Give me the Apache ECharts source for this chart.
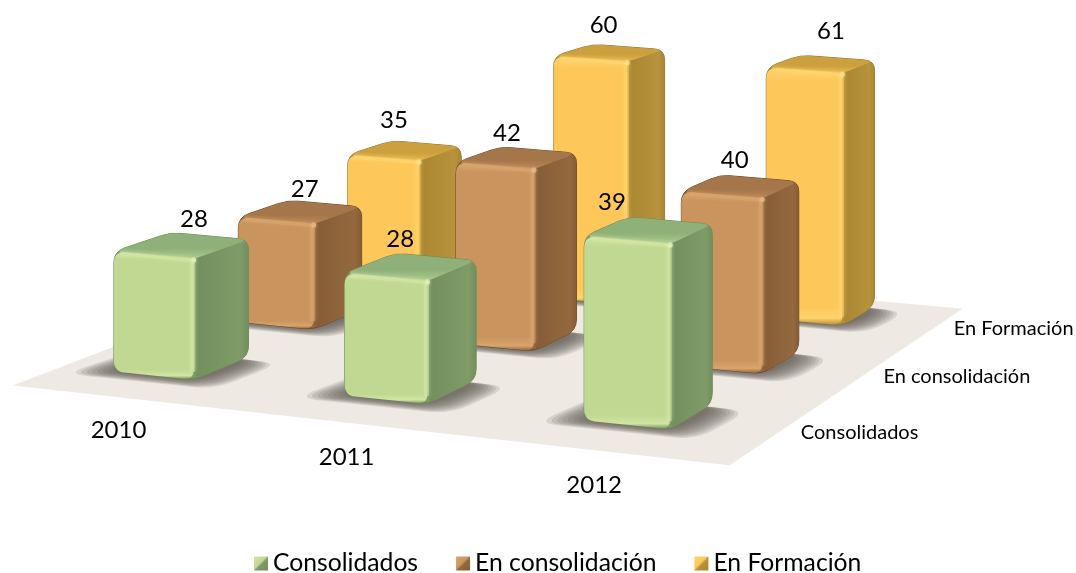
<!DOCTYPE html>
<html><head><meta charset="utf-8">
<style>html,body{margin:0;padding:0;background:#fff}#c{width:1076px;height:573px}</style>
<script src="https://cdn.jsdelivr.net/npm/echarts@6/dist/echarts.min.js"></script>
</head><body><div id="c"></div>
<script>
// ---- data ----
const years = ['2010', '2011', '2012'];
const rowNames = ['Consolidados', 'En consolidación', 'En Formación'];
const consolidados = [28, 28, 39];
const enConsolidacion = [27, 42, 40];
const enFormacion = [35, 60, 61];

// ---- presentation ----
const FONT = 'Lato, "Open Sans", sans-serif';
const palettes = [
  {front:'#c0d892', lite:'#d2e5a4', edge:'#6f8a55', side:'#7f9b68', sideD:'#728e5e', top:'#8fb078', topL:'#a9cb8e', dot:'#e2f2bc'},
  {front:'#c9945e', lite:'#d8a56f', edge:'#6e4a28', side:'#94693f', sideD:'#845c36', top:'#a5764a', topL:'#b98553', dot:'#e6b98a'},
  {front:'#fdc75a', lite:'#ffd46e', edge:'#8f7a3a', side:'#b8923c', sideD:'#a98632', top:'#cda03f', topL:'#e6b64c', dot:'#ffe08a'}
];
// label nudges per row/year, px
const labelNudge = [
  [[12,2],[-11,0],[-37,0]],
  [[4,5],[-10,4],[-6,2]],
  [[-11,-2],[-6,0],[10,-5]]
];
const yearShift = [[20,-5],[10,-3],[10,-1]];
const rowShift = [[71,6],[85,5],[69,5]];
const halfU = 0.175, halfV = 0.22;
const floorCorners = [[-0.40,-0.58],[2.57,-0.63],[2.55,2.33],[-0.40,2.33]];
const FRONT_V = -0.63, RIGHT_U = 2.57;
const AXIS_MIN = 0, AXIS_MAX = 92;
const rowBase = [5, 5.5, 8];   // where each row's bars leave the floor on the value scale

// perspective mapping of the floor plane: (year index, row index) -> screen
const Q = [[182,364],[649,412],[821,312],[405,273]];
const H = (function(){
  const [p0,p1,p2,p3] = Q;
  const dx1=p1[0]-p2[0], dx2=p3[0]-p2[0], sx=p0[0]-p1[0]+p2[0]-p3[0];
  const dy1=p1[1]-p2[1], dy2=p3[1]-p2[1], sy=p0[1]-p1[1]+p2[1]-p3[1];
  const det=dx1*dy2-dx2*dy1;
  const g=(sx*dy2-dx2*sy)/det, h=(dx1*sy-sx*dy1)/det;
  return {a:p1[0]-p0[0]+g*p1[0], b:p3[0]-p0[0]+h*p3[0], c:p0[0],
          d:p1[1]-p0[1]+g*p1[1], e:p3[1]-p0[1]+h*p3[1], f:p0[1], g, h};
})();
function project(u, v, height){
  const s=u/2, t=v/2, w=H.g*s+H.h*t+1;
  return [(H.a*s+H.b*t+H.c)/w, (H.d*s+H.e*t+H.f)/w-(height||0)/w];
}
function roundPoly(pts, radii){
  let d='';
  const n=pts.length;
  for(let i=0;i<n;i++){
    const p=pts[i], a=pts[(i+n-1)%n], b=pts[(i+1)%n], r=radii[i];
    const la=Math.hypot(a[0]-p[0],a[1]-p[1]), lb=Math.hypot(b[0]-p[0],b[1]-p[1]);
    const ra=Math.min(r,la/2), rb=Math.min(r,lb/2);
    const s=[p[0]+(a[0]-p[0])*ra/la, p[1]+(a[1]-p[1])*ra/la];
    const e=[p[0]+(b[0]-p[0])*rb/lb, p[1]+(b[1]-p[1])*rb/lb];
    d+=(i?'L':'M')+s[0]+' '+s[1]+'Q'+p[0]+' '+p[1]+' '+e[0]+' '+e[1];
  }
  return d+'Z';
}
const LG = echarts.graphic.LinearGradient;

function barItem(row, pal){
  return function(params, api){
    const u=api.value(0), val=api.value(1), v=row;
    const H1=api.coord([u,rowBase[row]])[1]-api.coord([u,val])[1];
    const fl=project(u-halfU,v-halfV), fr=project(u+halfU,v-halfV), br=project(u+halfU,v+halfV);
    const flT=project(u-halfU,v-halfV,H1), frT=project(u+halfU,v-halfV,H1), brT=project(u+halfU,v+halfV,H1), blT=project(u-halfU,v+halfV,H1);
    const topC=project(u,v,H1);
    const nudge=labelNudge[row][u];
    const kids=[];
    kids.push({type:'path',shape:{pathData:roundPoly([fl,fr,br,brT,blT,flT],[11,10,11,10,10,11])},
      style:{fill:pal.side,stroke:pal.edge,lineWidth:1}});
    kids.push({type:'path',shape:{pathData:roundPoly([frT,brT,br,fr],[5,10,11,10])},
      style:{fill:new LG(0,0,1,0,[{offset:0,color:pal.sideD},{offset:0.85,color:pal.side},{offset:1,color:pal.sideD}])}});
    kids.push({type:'path',shape:{pathData:roundPoly([flT,frT,brT,blT],[11,6,10,10])},
      style:{fill:new LG(0,1,0,0,[{offset:0,color:pal.topL},{offset:0.4,color:pal.top},{offset:1,color:pal.top}])}});
    kids.push({type:'path',shape:{pathData:roundPoly([flT,frT,fr,fl],[11,5,10,11])},
      style:{fill:new LG(0,0,0,1,[{offset:0,color:pal.lite},{offset:0.05,color:pal.front},{offset:0.93,color:pal.front},{offset:0.975,color:pal.lite},{offset:1,color:pal.side}])}});
    // soft bevel highlights
    kids.push({type:'polyline',shape:{points:[[frT[0]-1,frT[1]+2],[fr[0]-1,fr[1]-8]]},
      style:{fill:null,stroke:pal.lite,lineWidth:5,opacity:.55,shadowBlur:4,shadowColor:pal.lite}});
    kids.push({type:'polyline',shape:{points:[[flT[0]+6,flT[1]+2],[frT[0]-2,frT[1]+1]]},
      style:{fill:null,stroke:pal.lite,lineWidth:4,opacity:.65,shadowBlur:4,shadowColor:pal.lite}});
    kids.push({type:'circle',shape:{cx:frT[0],cy:frT[1]+1,r:2.5},style:{fill:pal.dot,opacity:.8,shadowBlur:3,shadowColor:pal.dot}});
    kids.push({type:'text',style:{text:String(val),x:topC[0]+nudge[0],y:topC[1]-28+nudge[1],
      fill:'#000',fontFamily:FONT,fontSize:24,align:'center',verticalAlign:'middle'}});
    return {type:'group',children:kids};
  };
}
function shadowItem(row){
  return function(params, api){
    const u=api.value(0), v=row, kids=[];
    const LAYERS=9;
    for(let k=0;k<LAYERS;k++){
      const e=1-k/(LAYERS-1);            // outer first
      const a=0.02+0.13*e, b=0.01+0.10*e;
      const pts=[project(u-halfU-a,v-halfV-b),project(u+halfU+a,v-halfV-b),project(u+halfU+a+.02,v+halfV-.05),project(u-halfU-a+.04,v+halfV-.05)];
      kids.push({type:'path',shape:{pathData:roundPoly(pts,[22,22,22,22])},style:{fill:'rgba(85,78,72,.15)'}});
    }
    return {type:'group',children:kids};
  };
}
function floorItem(params, api){
  return {type:'polygon',shape:{points:floorCorners.map(c=>project(c[0],c[1]))},style:{fill:'#eee9e3'}};
}
function yearLabelItem(params, api){
  const i=api.value(0), p=project(i,FRONT_V);
  return {type:'text',style:{text:years[i],x:p[0]+yearShift[i][0],y:p[1]+37+yearShift[i][1],fill:'#000',fontFamily:FONT,fontSize:24,align:'center',verticalAlign:'middle'}};
}
function rowLabelItem(params, api){
  const r=api.value(1), p=project(RIGHT_U,r);
  return {type:'text',style:{text:rowNames[r],x:p[0]+rowShift[r][0],y:p[1]+rowShift[r][1],fill:'#000',fontFamily:FONT,fontSize:20,align:'center',verticalAlign:'middle'}};
}

const rows=[consolidados,enConsolidacion,enFormacion];
const series=[];
series.push({type:'custom',name:'floor',z:1,silent:true,clip:false,renderItem:floorItem,data:[[0,0]]});
rows.forEach((vals,r)=>{
  series.push({type:'custom',name:'shadow'+r,z:2,silent:true,clip:false,renderItem:shadowItem(r),data:vals.map((x,i)=>[i,x])});
});
[2,1,0].forEach(r=>{
  series.push({type:'custom',name:rowNames[r],z:6-r,silent:true,clip:false,itemStyle:{color:palettes[r].front},
    renderItem:barItem(r,palettes[r]),data:rows[r].map((x,i)=>[i,x])});
});
series.push({type:'custom',name:'years',z:8,silent:true,clip:false,renderItem:yearLabelItem,data:years.map((y,i)=>[i,0])});
series.push({type:'custom',name:'rows',z:8,silent:true,clip:false,renderItem:rowLabelItem,data:rowNames.map((y,i)=>[0,i])});

const chart=echarts.init(document.getElementById('c'),null,{renderer:'canvas'});
chart.setOption({
  animation:false,
  backgroundColor:'#fff',
  grid:{left:0,right:0,top:0,height:474},
  xAxis:{type:'category',data:years,show:false},
  yAxis:{type:'value',min:AXIS_MIN,max:AXIS_MAX,show:false},
  legend:{
    left:249,top:546,itemWidth:14,itemHeight:14,itemGap:38,selectedMode:false,
    textStyle:{fontFamily:FONT,fontSize:24.7,color:'#000'},
    data:rowNames.map((n,r)=>({name:n,icon:'rect',itemStyle:{color:new LG(0,0,1,1,[{offset:0,color:palettes[r].lite},{offset:0.45,color:palettes[r].front},{offset:0.55,color:palettes[r].side},{offset:1,color:palettes[r].sideD}])}}))
  },
  series
});
</script></body></html>
